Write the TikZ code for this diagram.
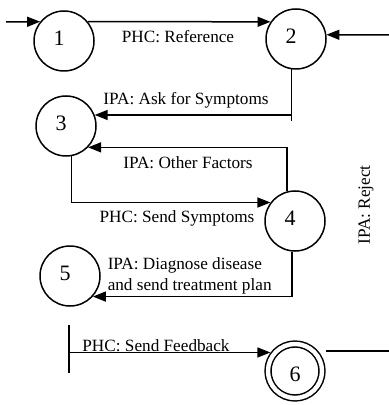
\documentclass[tikz,border=0pt]{standalone}
\usepackage{fontspec}
\setmainfont{Liberation Serif}
\usetikzlibrary{arrows.meta}

\begin{document}
\begin{tikzpicture}[x=0.5pt,y=-0.5pt,line width=0.75pt,
    state/.style={draw,circle,minimum size=30pt,inner sep=0pt},
    final/.style={state,minimum size=27pt,double,double distance=2.2pt,outer sep=1.9pt},
    num/.style={font=\fontsize{11}{13}\selectfont,inner sep=0pt},
    lbl/.style={font=\fontsize{8.6}{10.5}\selectfont,inner sep=0pt},
    arr/.style={-{Triangle[length=6.5pt,width=5pt]}}]
  \useasboundingbox (0,0) rectangle (389,405);
  \foreach \n/\x/\y in {1/64/41,2/296/39,3/66/126,4/295/221,5/70/276} {
    \node[state] (s\n) at (\x,\y) {};
    \node[num] (n\n) at ({\x-5},{\y-3}) {\n};
  };
  \node[final] (s6) at (295,371) {};
  \node[num] (n6) at (295,374) {6};
  \coordinate (in1) at (6,22);
  \coordinate (rin) at (389,35);
  \coordinate (rout) at (389,351);
  \coordinate (fb1) at (69,325);
  \coordinate (fb2) at (69,373);
  \draw[arr] (in1) -- (s1.141);
  \draw[arr] (s1.39) -- (s2.146);
  \draw[arr] (rin) -- (s2.8);
  \draw[arr] (s2.262) |- (s3.21);
  \draw (s2.262 |- s3.21) -- ++(0,6);
  \draw[arr] (s4.105) |- (s3.-44);
  \draw[arr] (s3.280) |- (s4.143);
  \draw[arr] (s4.264) |- (s5.-42);
  \draw (fb1) -- (fb2);
  \draw[arr] (fb1 |- s6.143) -- (s6.143);
  \draw (s6.east |- rout) -- (rout);
  \node[lbl] (lref) at (178,37) {PHC: Reference};
  \node[lbl] (lask) at (186,100) {IPA: Ask for Symptoms};
  \node[lbl] (loth) at (188,163) {IPA: Other Factors};
  \node[lbl] (lsym) at (177,218) {PHC: Send Symptoms};
  \node[lbl,align=left,anchor=west] (ldia) at (107,276) {IPA: Diagnose disease\\and send treatment plan};
  \node[lbl] (lfee) at (156,346) {PHC: Send Feedback};
  \node[lbl,rotate=90] (lrej) at (366,205) {IPA: Reject};
\end{tikzpicture}
\end{document}
